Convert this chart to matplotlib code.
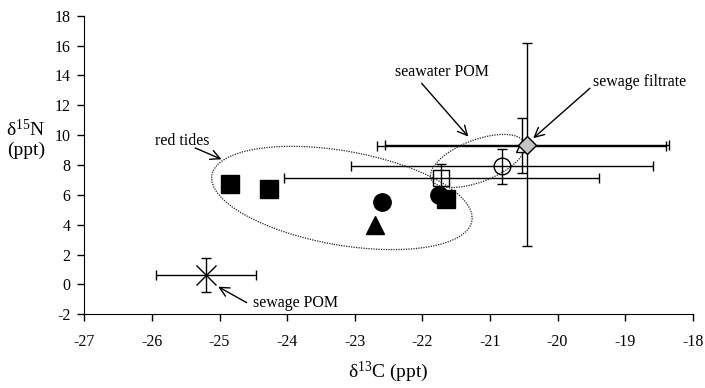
import matplotlib
matplotlib.use("Agg")
import matplotlib.pyplot as plt
from matplotlib.patches import Ellipse
from matplotlib.transforms import ScaledTranslation

plt.rcParams['font.family'] = ['Liberation Serif', 'DejaVu Serif']
plt.rcParams['mathtext.fontset'] = 'custom'
plt.rcParams['mathtext.rm'] = 'Liberation Serif'
plt.rcParams['mathtext.it'] = 'Liberation Serif:italic'
plt.rcParams['axes.unicode_minus'] = False

# red tide samples (filled symbols)
tide_sq_x = [-24.85, -24.27, -21.65]
tide_sq_y = [6.7, 6.4, 5.75]
tide_ci_x = [-22.6, -21.75]
tide_ci_y = [5.55, 6.0]
tide_tr_x = [-22.7]
tide_tr_y = [4.0]

# seawater POM (open symbols, mean +- sd)
sw_sq = dict(x=-21.72, y=7.15, xerr=2.33, yerr=0.9)
sw_ci = dict(x=-20.82, y=7.9, xerr=2.23, yerr=1.18)
sw_tr = dict(x=-20.53, y=9.3, xerr=2.14, yerr=1.82)

# sewage
filtrate = dict(x=-20.45, y=9.37, xerr=2.1, yerr=6.8)
sew_pom = dict(x=-25.2, y=0.63, xerr=0.74, yerr=1.15)

fig = plt.figure(figsize=(7.05, 3.88), dpi=100)
ax = fig.add_axes([0.1196, 0.190, 0.863, 0.7696])

eb = dict(fmt='none', ecolor='black', elinewidth=1.0, capsize=3.5, capthick=1.0, zorder=2)
for d in (sw_sq, sw_ci, sw_tr, filtrate, sew_pom):
    ax.errorbar(d['x'], d['y'], xerr=d['xerr'], yerr=d['yerr'], **eb)

ax.plot(tide_sq_x, tide_sq_y, 's', color='black', ms=12.5, zorder=4)
ax.plot(tide_ci_x, tide_ci_y, 'o', color='black', ms=12.5, zorder=4)
ax.plot(tide_tr_x, tide_tr_y, '^', color='black', ms=13, zorder=4)

ax.plot(sw_sq['x'], sw_sq['y'], 's', mfc='none', mec='black', mew=1.0, ms=12, zorder=4)
ax.plot(sw_ci['x'], sw_ci['y'], 'o', mfc='none', mec='black', mew=1.0, ms=12, zorder=4)
ax.plot(sw_tr['x'], sw_tr['y'], '^', mfc='white', mec='black', mew=1.0, ms=8.5, zorder=4)
ax.plot(filtrate['x'], filtrate['y'], 'D', mfc='#c4c4c4', mec='black', mew=1.0, ms=8.7, zorder=5)
ax.plot(sew_pom['x'], sew_pom['y'], 'x', color='black', mew=1.0, ms=15, zorder=4)

# dotted groupings, sized in inches around a data centre
def group_ellipse(cx, cy, w, h, ang):
    tr = fig.dpi_scale_trans + ScaledTranslation(cx, cy, ax.transData)
    e = Ellipse((0, 0), w, h, angle=ang, transform=tr, fill=False,
                ec='#222222', lw=0.9, ls=(0, (1, 1)), zorder=3)
    ax.add_patch(e)

group_ellipse(-23.19, 5.79, 2.64, 0.94, -10)
group_ellipse(-21.18, 8.27, 1.0, 0.42, 21)

arrow = dict(arrowstyle='->', color='black', lw=1.0, mutation_scale=17, shrinkA=0, shrinkB=0)
ax.text(-25.55, 9.61, 'red tides', ha='center', va='center', fontsize=11.5)
ax.annotate('', xy=(-24.97, 8.38), xytext=(-25.36, 9.14), arrowprops=arrow)
ax.text(-21.71, 14.23, 'seawater POM', ha='center', va='center', fontsize=11.5)
ax.annotate('', xy=(-21.32, 9.9), xytext=(-22.01, 13.47), arrowprops=arrow)
ax.text(-18.78, 13.56, 'sewage filtrate', ha='center', va='center', fontsize=11.5)
ax.annotate('', xy=(-20.36, 9.79), xytext=(-19.52, 13.14), arrowprops=arrow)
ax.text(-23.88, -1.22, 'sewage POM', ha='center', va='center', fontsize=11.5)
ax.annotate('', xy=(-25.02, -0.15), xytext=(-24.6, -1.22), arrowprops=arrow)

ax.set_xlim(-27, -18)
ax.set_ylim(-2, 18)
ax.set_xticks(range(-27, -17))
ax.set_yticks(range(-2, 19, 2))
ax.spines['top'].set_visible(False)
ax.spines['right'].set_visible(False)
ax.tick_params(direction='out', length=5, width=1, labelsize=11.5)
ax.tick_params(axis='x', pad=9)
ax.tick_params(axis='y', pad=5)
ax.set_xlabel(r'δ$^{\mathrm{13}}$C (ppt)', fontsize=14, labelpad=7)

fig.text(26 / 705, 1 - 130 / 388, r'δ$^{\mathrm{15}}$N', ha='center', va='center', fontsize=14)
fig.text(26 / 705, 1 - 150 / 388, '(ppt)', ha='center', va='center', fontsize=14)

fig.savefig('out.png', dpi=100)
